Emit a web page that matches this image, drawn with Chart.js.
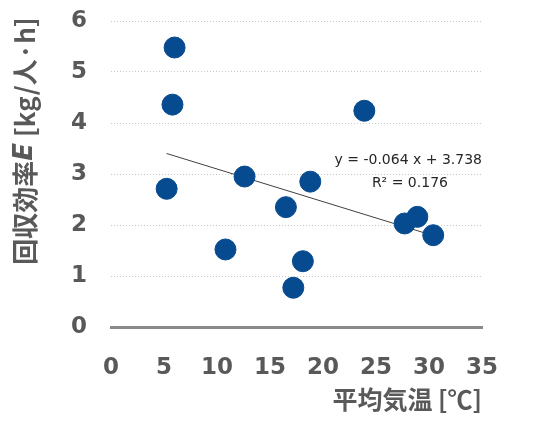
<!DOCTYPE html>
<html>
<head>
<meta charset="utf-8">
<script src="https://cdn.jsdelivr.net/npm/chart.js@4/dist/chart.umd.min.js"></script>
<style>
  html, body { margin: 0; padding: 0; background: #fff; }
  #wrap { width: 549px; height: 432px; }
</style>
</head>
<body>
<div id="wrap"><canvas id="chart" width="549" height="432"></canvas></div>
<script>
// data
const temps = [6.0, 5.8, 5.25, 10.8, 12.6, 16.5, 17.2, 18.1, 18.8, 23.9, 27.7, 28.9, 30.4];
const effs  = [5.48, 4.36, 2.71, 1.52, 2.95, 2.35, 0.77, 1.29, 2.85, 4.24, 2.03, 2.16, 1.80];
const xTicks = [0, 5, 10, 15, 20, 25, 30, 35];
const yTicks = [0, 1, 2, 3, 4, 5, 6];
const slope = -0.064;
const intercept = 3.738;
const r2 = 0.176;

const GREY = '#595959';
const points = temps.map((t, i) => ({ x: t, y: effs[i] }));
const xMin = Math.min(...temps), xMax = Math.max(...temps);
const trend = [xMin, xMax].map(x => ({ x: x, y: slope * x + intercept }));

// y axis title with italic E, plus the equation label
const labels = {
    id: 'labels',
    afterDraw(chart) {
        const ctx = chart.ctx;
        const xs = chart.scales.x, ys = chart.scales.y;

        // equation
        ctx.save();
        ctx.fillStyle = '#262626';
        ctx.font = '14px "DejaVu Sans", Verdana, sans-serif';
        ctx.textBaseline = 'middle';
        ctx.textAlign = 'right';
        ctx.fillText('y = ' + slope.toFixed(3) + ' x + ' + intercept.toFixed(3), xs.getPixelForValue(35), ys.getPixelForValue(3.27));
        ctx.textAlign = 'center';
        ctx.fillText('R² = ' + r2.toFixed(3), xs.getPixelForValue(28.2), ys.getPixelForValue(2.82));
        ctx.restore();

        // rotated y title
        const parts = [
            { t: '回収効率', f: 'bold 26px "Noto Sans CJK JP", sans-serif' },
            { t: 'E', f: 'italic bold 26px "DejaVu Sans", sans-serif' },
            { t: ' [kg/人·h]', f: 'bold 26px "Noto Sans CJK JP", sans-serif' }
        ];
        ctx.save();
        let total = 0;
        parts.forEach(p => { ctx.font = p.f; p.w = ctx.measureText(p.t).width; total += p.w; });
        ctx.translate(25, 141);
        ctx.rotate(-Math.PI / 2);
        ctx.fillStyle = GREY;
        ctx.textBaseline = 'middle';
        ctx.textAlign = 'left';
        let pos = -total / 2;
        parts.forEach(p => { ctx.font = p.f; ctx.fillText(p.t, pos, 0); pos += p.w; });
        ctx.restore();
    }
};

new Chart(document.getElementById('chart'), {
    type: 'scatter',
    data: {
        datasets: [{
            data: points,
            backgroundColor: '#064A8F',
            borderColor: '#064A8F',
            pointRadius: 10.5,
            pointHoverRadius: 10.5
        }, {
            type: 'line',
            data: trend,
            borderColor: '#404040',
            borderWidth: 1,
            pointRadius: 0,
            fill: false
        }]
    },
    options: {
        responsive: false,
        animation: false,
        layout: { padding: { left: 0, right: 67, top: 21, bottom: 0 } },
        plugins: { legend: { display: false }, tooltip: { enabled: false } },
        scales: {
            x: {
                type: 'linear',
                min: 0,
                max: 35,
                afterBuildTicks: s => { s.ticks = xTicks.map(v => ({ value: v })); },
                afterFit: s => { s.height = 105; s.paddingLeft = 0; s.paddingRight = 0; },
                grid: { display: false, drawTicks: false },
                border: { display: true, color: '#898989', width: 3 },
                ticks: { color: GREY, padding: 27, font: { family: '"DejaVu Sans", Verdana, sans-serif', size: 23, weight: 'bold' } },
                title: {
                    display: true,
                    text: '平均気温 [℃]',
                    align: 'end',
                    color: GREY,
                    padding: { top: 0, bottom: 18 },
                    font: { family: '"Noto Sans CJK JP", sans-serif', size: 25, weight: 'bold' }
                }
            },
            y: {
                min: 0,
                max: 6,
                afterBuildTicks: s => { s.ticks = yTicks.map(v => ({ value: v })); },
                afterFit: s => { s.width = 111; s.paddingTop = 0; s.paddingBottom = 0; },
                grid: {
                    drawTicks: false,
                    color: ctx => ctx.tick && ctx.tick.value === 0 ? 'rgba(0,0,0,0)' : '#c8c8c8',
                    lineWidth: 1
                },
                border: { display: false, dash: [1, 2] },
                ticks: { color: GREY, padding: 24, font: { family: '"DejaVu Sans", Verdana, sans-serif', size: 23, weight: 'bold' } }
            }
        }
    },
    plugins: [labels]
});
</script>
</body>
</html>
